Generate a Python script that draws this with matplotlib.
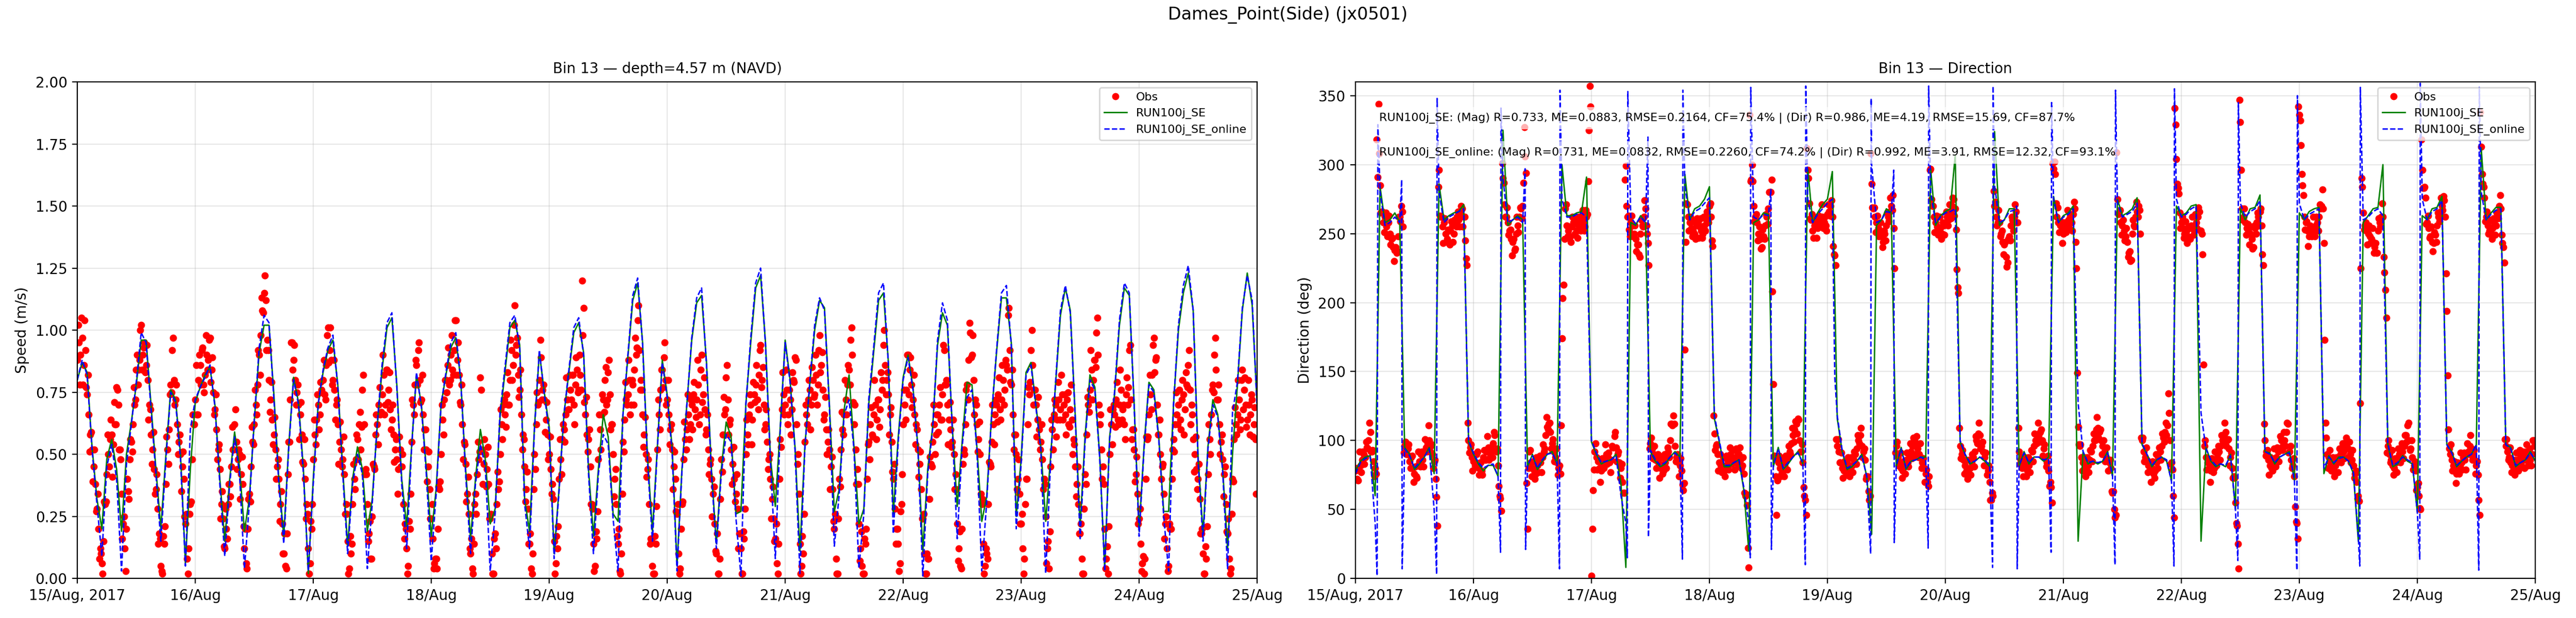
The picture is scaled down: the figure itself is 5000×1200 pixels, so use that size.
import datetime as dt
import numpy as np
import matplotlib
matplotlib.use("Agg")
import matplotlib.pyplot as plt
import matplotlib.dates as mdates
from matplotlib.ticker import FuncFormatter, MultipleLocator

# ---------------- data ----------------
START = dt.datetime(2017, 8, 15)
END = dt.datetime(2017, 8, 25)
MODEL_STEP_MIN = 60
OBS_STEP_MIN = 20      # each obs list is sampled every 20 min
OBS_B_OFFSET_MIN = 10  # second obs list sits 10 min after the first

SUPTITLE = "Dames_Point(Side) (jx0501)"
TITLE_SPEED = "Bin 13 \u2014 depth=4.57 m (NAVD)"
TITLE_DIR = "Bin 13 \u2014 Direction"
LABELS = ["Obs", "RUN100j_SE", "RUN100j_SE_online"]
STATS = [
    "RUN100j_SE: (Mag) R=0.733, ME=0.0883, RMSE=0.2164, CF=75.4% | (Dir) R=0.986, ME=4.19, RMSE=15.69, CF=87.7%",
    "RUN100j_SE_online: (Mag) R=0.731, ME=0.0832, RMSE=0.2260, CF=74.2% | (Dir) R=0.992, ME=3.91, RMSE=12.32, CF=93.1%",
]

# model speed, hourly (m/s)
SE_SPEED = [
    0.80, 0.87, 0.83, 0.53, 0.32, 0.20, 0.48, 0.56, 0.44, 0.19,
    0.50, 0.63, 0.78, 0.96, 0.96, 0.70, 0.44, 0.20, 0.49, 0.76,
    0.72, 0.50, 0.06, 0.44, 0.71, 0.77, 0.82, 0.85, 0.70, 0.40,
    0.15, 0.40, 0.59, 0.45, 0.19, 0.32, 0.63, 0.91, 1.02, 1.02,
    0.74, 0.40, 0.17, 0.53, 0.81, 0.71, 0.44, 0.02, 0.40, 0.70,
    0.83, 0.92, 0.96, 0.78, 0.44, 0.13, 0.40, 0.53, 0.44, 0.19,
    0.32, 0.61, 0.84, 1.01, 1.05, 0.78, 0.40, 0.21, 0.53, 0.82,
    0.70, 0.44, 0.17, 0.36, 0.70, 0.82, 0.93, 0.97, 0.80, 0.44,
    0.16, 0.40, 0.60, 0.48, 0.22, 0.28, 0.65, 0.83, 1.01, 1.04,
    0.94, 0.32, 0.19, 0.61, 0.91, 0.75, 0.61, 0.10, 0.36, 0.66,
    0.83, 0.99, 1.03, 0.91, 0.44, 0.17, 0.44, 0.66, 0.57, 0.26,
    0.23, 0.66, 0.89, 1.12, 1.19, 0.95, 0.49, 0.19, 0.53, 0.88,
    0.74, 0.53, 0.05, 0.44, 0.70, 0.96, 1.11, 1.14, 0.87, 0.44,
    0.14, 0.44, 0.63, 0.57, 0.26, 0.27, 0.70, 0.95, 1.17, 1.22,
    0.95, 0.49, 0.29, 0.61, 0.96, 0.80, 0.53, 0.11, 0.53, 0.78,
    1.00, 1.12, 1.09, 0.70, 0.27, 0.36, 0.68, 0.82, 0.53, 0.22,
    0.28, 0.70, 0.91, 1.12, 1.15, 0.87, 0.26, 0.57, 0.81, 0.90,
    0.77, 0.53, 0.11, 0.44, 0.61, 0.94, 1.07, 1.02, 0.61, 0.29,
    0.55, 0.79, 0.78, 0.53, 0.23, 0.33, 0.66, 0.91, 1.13, 1.13,
    0.95, 0.25, 0.48, 0.83, 0.87, 0.70, 0.53, 0.23, 0.49, 0.78,
    1.06, 1.17, 1.08, 0.66, 0.21, 0.57, 0.82, 0.77, 0.49, 0.04,
    0.57, 0.74, 1.02, 1.17, 1.14, 0.70, 0.19, 0.53, 0.79, 0.76,
    0.57, 0.27, 0.27, 0.70, 1.00, 1.15, 1.23, 1.08, 0.49, 0.18,
    0.53, 0.72, 0.66, 0.44, 0.12, 0.50, 0.78, 1.08, 1.23, 1.10,
    0.70,
]

ONLINE_SPEED = [
    0.80, 0.88, 0.82, 0.52, 0.30, 0.09, 0.45, 0.54, 0.40, 0.03,
    0.46, 0.62, 0.79, 0.99, 0.95, 0.68, 0.42, 0.15, 0.47, 0.75,
    0.71, 0.48, 0.05, 0.60, 0.72, 0.77, 0.81, 0.86, 0.69, 0.38,
    0.09, 0.38, 0.57, 0.42, 0.04, 0.30, 0.64, 0.93, 1.06, 1.03,
    0.72, 0.38, 0.14, 0.52, 0.80, 0.70, 0.42, 0.03, 0.38, 0.70,
    0.84, 0.93, 0.98, 0.77, 0.42, 0.10, 0.38, 0.50, 0.42, 0.04,
    0.30, 0.62, 0.86, 1.03, 1.07, 0.77, 0.38, 0.12, 0.52, 0.83,
    0.69, 0.42, 0.07, 0.34, 0.70, 0.83, 0.95, 0.99, 0.80, 0.42,
    0.10, 0.38, 0.54, 0.45, 0.03, 0.26, 0.67, 0.85, 1.03, 1.06,
    0.93, 0.30, 0.12, 0.60, 0.92, 0.74, 0.59, 0.08, 0.35, 0.66,
    0.84, 1.01, 1.05, 0.90, 0.42, 0.10, 0.42, 0.58, 0.54, 0.24,
    0.03, 0.66, 0.90, 1.14, 1.21, 0.94, 0.47, 0.15, 0.52, 0.87,
    0.73, 0.51, 0.03, 0.43, 0.70, 0.97, 1.13, 1.17, 0.86, 0.42,
    0.12, 0.42, 0.58, 0.55, 0.24, 0.01, 0.70, 0.97, 1.19, 1.25,
    0.94, 0.47, 0.08, 0.60, 0.95, 0.79, 0.52, 0.02, 0.52, 0.79,
    1.02, 1.13, 1.08, 0.69, 0.13, 0.34, 0.66, 0.72, 0.52, 0.04,
    0.26, 0.72, 0.93, 1.15, 1.19, 0.86, 0.18, 0.55, 0.80, 0.89,
    0.76, 0.52, 0.01, 0.42, 0.60, 0.96, 1.11, 1.04, 0.60, 0.16,
    0.53, 0.73, 0.76, 0.52, 0.03, 0.31, 0.66, 0.92, 1.15, 1.18,
    0.94, 0.20, 0.46, 0.82, 0.86, 0.69, 0.52, 0.02, 0.47, 0.79,
    1.08, 1.18, 1.07, 0.65, 0.16, 0.55, 0.80, 0.76, 0.48, 0.03,
    0.56, 0.75, 1.04, 1.19, 1.15, 0.69, 0.17, 0.52, 0.78, 0.75,
    0.56, 0.25, 0.03, 0.70, 1.02, 1.18, 1.26, 1.08, 0.47, 0.15,
    0.52, 0.70, 0.65, 0.43, 0.04, 0.67, 0.79, 1.09, 1.22, 1.12,
    0.69,
]

# observed speed on the 20-minute marks (m/s)
OBS_SPEED_A = [
    0.88, 0.95, 0.90, 0.97, 0.86, 0.92, 0.74, 0.66, 0.58, 0.52, 0.45, 0.38,
    0.28, 0.20, 0.12, 0.06, 0.15, 0.30, 0.42, 0.50, 0.56, 0.58, 0.54, 0.62,
    0.77, 0.70, 0.52, 0.34, 0.22, 0.12, 0.20, 0.35, 0.48, 0.55, 0.62, 0.70,
    0.84, 0.78, 0.88, 1.02, 0.90, 0.95, 0.86, 0.80, 0.70, 0.58, 0.52, 0.44,
    0.36, 0.28, 0.18, 0.05, 0.02, 0.14, 0.38, 0.52, 0.60, 0.78, 0.92, 0.80,
    0.72, 0.62, 0.55, 0.50, 0.45, 0.40, 0.22, 0.08, 0.12, 0.30, 0.48, 0.62,
    0.72, 0.66, 0.80, 0.86, 0.92, 0.78, 0.82, 0.90, 0.88, 0.97, 0.84, 0.75,
    0.68, 0.60, 0.52, 0.44, 0.30, 0.24, 0.12, 0.20, 0.30, 0.38, 0.45, 0.52,
    0.62, 0.55, 0.48, 0.50, 0.42, 0.38, 0.12, 0.06, 0.20, 0.34, 0.45, 0.55,
    0.62, 0.70, 0.78, 0.90, 0.98, 1.08, 1.15, 1.12, 0.96, 0.80, 0.72, 0.64,
    0.58, 0.52, 0.45, 0.40, 0.30, 0.22, 0.10, 0.05, 0.18, 0.55, 0.72, 0.95,
    0.88, 0.80, 0.75, 0.70, 0.66, 0.58, 0.46, 0.40, 0.30, 0.12, 0.06, 0.20,
    0.48, 0.58, 0.64, 0.70, 0.66, 0.76, 0.80, 0.74, 0.86, 1.01, 0.92, 0.88,
    0.80, 0.76, 0.70, 0.62, 0.55, 0.52, 0.48, 0.42, 0.30, 0.15, 0.04, 0.10,
    0.30, 0.40, 0.48, 0.56, 0.62, 0.52, 0.76, 0.62, 0.44, 0.30, 0.18, 0.08,
    0.25, 0.45, 0.58, 0.62, 0.70, 0.66, 0.74, 0.82, 0.70, 0.84, 0.76, 0.68,
    0.64, 0.58, 0.52, 0.48, 0.44, 0.52, 0.45, 0.30, 0.22, 0.12, 0.05, 0.20,
    0.55, 0.70, 0.78, 0.86, 0.92, 0.80, 0.72, 0.66, 0.60, 0.52, 0.45, 0.36,
    0.24, 0.16, 0.06, 0.08, 0.20, 0.36, 0.50, 0.64, 0.72, 0.80, 0.86, 0.78,
    0.90, 0.84, 0.92, 1.04, 0.88, 0.82, 0.70, 0.62, 0.55, 0.46, 0.34, 0.26,
    0.10, 0.04, 0.14, 0.34, 0.42, 0.48, 0.81, 0.52, 0.46, 0.50, 0.44, 0.38,
    0.24, 0.10, 0.02, 0.18, 0.30, 0.36, 0.50, 0.62, 0.70, 0.66, 0.74, 0.70,
    0.80, 0.92, 0.86, 1.10, 0.94, 0.82, 0.76, 0.66, 0.58, 0.45, 0.36, 0.28,
    0.14, 0.04, 0.10, 0.50, 0.62, 0.70, 0.80, 0.89, 0.76, 0.72, 0.64, 0.58,
    0.50, 0.44, 0.38, 0.15, 0.06, 0.12, 0.40, 0.48, 0.56, 0.60, 0.66, 0.72,
    0.68, 0.76, 0.82, 0.70, 0.78, 0.84, 0.76, 0.82, 1.20, 1.09, 0.66, 0.58,
    0.56, 0.45, 0.30, 0.14, 0.05, 0.16, 0.48, 0.60, 0.66, 0.72, 0.80, 0.70,
    0.83, 0.74, 0.62, 0.50, 0.40, 0.30, 0.14, 0.03, 0.10, 0.55, 0.64, 0.72,
    0.74, 0.80, 0.70, 0.78, 0.84, 0.90, 1.04, 0.92, 0.80, 0.66, 0.58, 0.50,
    0.44, 0.30, 0.16, 0.05, 0.02, 0.14, 0.52, 0.66, 0.76, 0.84, 0.89, 0.80,
    0.72, 0.66, 0.60, 0.52, 0.45, 0.40, 0.26, 0.10, 0.04, 0.30, 0.48, 0.56,
    0.60, 0.66, 0.62, 0.70, 0.74, 0.68, 0.72, 0.78, 0.66, 0.90, 0.74, 0.68,
    0.60, 0.52, 0.46, 0.40, 0.34, 0.22, 0.10, 0.02, 0.08, 0.48, 0.58, 0.66,
    0.81, 0.72, 0.62, 0.52, 0.46, 0.40, 0.34, 0.28, 0.18, 0.12, 0.02, 0.16,
    0.50, 0.58, 0.66, 0.70, 0.64, 0.74, 0.78, 0.72, 0.82, 0.94, 0.80, 0.70,
    0.62, 0.55, 0.48, 0.40, 0.32, 0.24, 0.16, 0.06, 0.14, 0.56, 0.68, 0.74,
    0.70, 0.76, 0.66, 0.72, 0.68, 0.80, 0.89, 0.62, 0.50, 0.14, 0.05, 0.10,
    0.55, 0.66, 0.72, 0.76, 0.70, 0.80, 0.74, 0.82, 0.78, 0.98, 0.86, 0.76,
    0.66, 0.60, 0.55, 0.52, 0.45, 0.36, 0.20, 0.08, 0.02, 0.40, 0.52, 0.60,
    0.66, 0.72, 0.78, 0.84, 0.96, 0.90, 0.62, 0.52, 0.44, 0.22, 0.12, 0.05,
    0.02, 0.14, 0.40, 0.55, 0.62, 0.58, 0.66, 0.70, 0.64, 0.72, 0.68, 0.76,
    0.94, 0.86, 0.80, 0.74, 0.66, 0.55, 0.40, 0.28, 0.20, 0.14, 0.06, 0.30,
    0.62, 0.70, 0.76, 0.90, 0.84, 0.78, 0.72, 0.66, 0.62, 0.52, 0.46, 0.36,
    0.24, 0.10, 0.02, 0.08, 0.32, 0.46, 0.55, 0.62, 0.58, 0.66, 0.70, 0.64,
    0.74, 0.92, 0.78, 0.70, 0.64, 0.60, 0.55, 0.50, 0.42, 0.22, 0.12, 0.05,
    0.20, 0.52, 0.62, 0.78, 0.88, 0.99, 0.90, 0.80, 0.72, 0.62, 0.56, 0.50,
    0.30, 0.14, 0.05, 0.10, 0.30, 0.46, 0.55, 0.62, 0.66, 0.70, 0.74, 0.68,
    0.72, 0.80, 0.76, 0.86, 1.06, 0.92, 0.78, 0.66, 0.58, 0.50, 0.40, 0.34,
    0.22, 0.12, 0.08, 0.40, 0.62, 0.74, 0.92, 0.86, 0.76, 0.70, 0.64, 0.60,
    0.55, 0.48, 0.40, 0.25, 0.12, 0.04, 0.45, 0.60, 0.66, 0.70, 0.64, 0.72,
    0.68, 0.74, 0.70, 0.66, 0.72, 0.62, 0.68, 0.64, 0.56, 0.45, 0.38, 0.30,
    0.18, 0.08, 0.02, 0.42, 0.58, 0.70, 0.76, 0.84, 0.80, 0.88, 0.99, 0.90,
    0.62, 0.52, 0.45, 0.20, 0.08, 0.02, 0.50, 0.62, 0.68, 0.66, 0.72, 0.64,
    0.70, 0.76, 0.68, 0.62, 0.74, 0.70, 0.92, 0.72, 0.60, 0.52, 0.42, 0.34,
    0.24, 0.14, 0.06, 0.02, 0.40, 0.56, 0.66, 0.74, 0.82, 0.97, 0.88, 0.70,
    0.58, 0.50, 0.45, 0.34, 0.22, 0.12, 0.05, 0.20, 0.40, 0.56, 0.62, 0.66,
    0.70, 0.64, 0.72, 0.74, 0.68, 0.78, 0.86, 0.76, 0.70, 0.56, 0.50, 0.44,
    0.40, 0.32, 0.18, 0.10, 0.02, 0.08, 0.42, 0.56, 0.66, 0.78, 0.90, 0.84,
    0.72, 0.62, 0.55, 0.48, 0.42, 0.30, 0.18, 0.08, 0.04, 0.40, 0.56, 0.62,
    0.66, 0.72, 0.64, 0.84, 0.76, 0.70, 0.64, 0.70, 0.66, 0.72, 0.62, 0.56,
]

# observed speed 10 minutes after each 20-minute mark (m/s)
OBS_SPEED_B = [
    1.02, 0.78, 1.05, 0.78, 1.04, 0.77, 0.82, 0.51, 0.59, 0.39, 0.52, 0.27,
    0.34, 0.08, 0.10, 0.02, 0.31, 0.31, 0.58, 0.45, 0.64, 0.41, 0.71, 0.62,
    0.76, 0.52, 0.48, 0.16, 0.25, 0.03, 0.40, 0.32, 0.56, 0.51, 0.77, 0.72,
    0.90, 0.84, 1.00, 0.84, 0.93, 0.83, 0.94, 0.64, 0.68, 0.46, 0.59, 0.34,
    0.42, 0.14, 0.16, 0.03, 0.17, 0.21, 0.57, 0.46, 0.74, 0.75, 0.97, 0.70,
    0.78, 0.50, 0.58, 0.35, 0.51, 0.25, 0.26, 0.02, 0.26, 0.31, 0.66, 0.62,
    0.86, 0.66, 0.90, 0.78, 0.93, 0.75, 0.98, 0.84, 0.96, 0.79, 0.89, 0.66,
    0.74, 0.48, 0.54, 0.24, 0.35, 0.13, 0.28, 0.16, 0.38, 0.33, 0.61, 0.52,
    0.68, 0.44, 0.52, 0.32, 0.49, 0.21, 0.20, 0.04, 0.32, 0.31, 0.61, 0.54,
    0.76, 0.66, 0.92, 0.82, 1.13, 1.07, 1.22, 0.92, 0.92, 0.67, 0.79, 0.54,
    0.65, 0.40, 0.48, 0.23, 0.35, 0.10, 0.18, 0.04, 0.42, 0.55, 0.95, 0.84,
    0.94, 0.70, 0.78, 0.56, 0.71, 0.47, 0.56, 0.24, 0.26, 0.02, 0.23, 0.30,
    0.64, 0.54, 0.74, 0.60, 0.79, 0.75, 0.88, 0.72, 0.98, 0.87, 1.01, 0.78,
    0.88, 0.64, 0.72, 0.46, 0.63, 0.45, 0.57, 0.26, 0.26, 0.02, 0.17, 0.14,
    0.46, 0.36, 0.58, 0.48, 0.67, 0.61, 0.82, 0.42, 0.42, 0.15, 0.23, 0.08,
    0.46, 0.44, 0.66, 0.54, 0.77, 0.67, 0.90, 0.66, 0.84, 0.71, 0.83, 0.60,
    0.70, 0.47, 0.56, 0.34, 0.57, 0.45, 0.50, 0.16, 0.20, 0.02, 0.23, 0.34,
    0.72, 0.66, 0.88, 0.78, 0.95, 0.71, 0.82, 0.52, 0.60, 0.39, 0.51, 0.24,
    0.30, 0.04, 0.08, 0.04, 0.37, 0.39, 0.70, 0.58, 0.80, 0.75, 0.93, 0.80,
    0.98, 0.82, 1.04, 0.82, 0.95, 0.71, 0.78, 0.48, 0.54, 0.31, 0.41, 0.12,
    0.16, 0.02, 0.30, 0.26, 0.55, 0.51, 0.76, 0.38, 0.56, 0.37, 0.53, 0.24,
    0.26, 0.02, 0.16, 0.12, 0.43, 0.39, 0.68, 0.56, 0.72, 0.61, 0.83, 0.70,
    0.96, 0.80, 1.02, 0.90, 0.97, 0.73, 0.84, 0.52, 0.56, 0.31, 0.43, 0.14,
    0.18, 0.02, 0.36, 0.44, 0.75, 0.71, 0.96, 0.72, 0.78, 0.59, 0.71, 0.48,
    0.57, 0.34, 0.32, 0.02, 0.17, 0.21, 0.56, 0.42, 0.62, 0.55, 0.81, 0.68,
    0.82, 0.72, 0.82, 0.62, 0.89, 0.75, 0.90, 0.76, 0.98, 0.71, 0.73, 0.51,
    0.60, 0.30, 0.28, 0.03, 0.19, 0.27, 0.66, 0.52, 0.74, 0.67, 0.85, 0.72,
    0.88, 0.60, 0.62, 0.33, 0.44, 0.17, 0.20, 0.02, 0.34, 0.51, 0.79, 0.70,
    0.88, 0.66, 0.80, 0.70, 0.97, 0.93, 1.10, 0.76, 0.76, 0.53, 0.65, 0.41,
    0.48, 0.14, 0.16, 0.02, 0.17, 0.29, 0.72, 0.60, 0.84, 0.77, 0.95, 0.70,
    0.80, 0.54, 0.62, 0.36, 0.51, 0.27, 0.30, 0.02, 0.20, 0.31, 0.63, 0.52,
    0.74, 0.56, 0.72, 0.60, 0.79, 0.65, 0.88, 0.62, 0.84, 0.71, 0.81, 0.58,
    0.66, 0.42, 0.48, 0.25, 0.37, 0.11, 0.18, 0.02, 0.32, 0.43, 0.73, 0.68,
    0.86, 0.58, 0.64, 0.38, 0.53, 0.31, 0.42, 0.12, 0.18, 0.02, 0.19, 0.28,
    0.64, 0.54, 0.74, 0.54, 0.79, 0.71, 0.86, 0.68, 0.92, 0.77, 0.85, 0.60,
    0.68, 0.44, 0.50, 0.24, 0.37, 0.15, 0.22, 0.02, 0.40, 0.53, 0.83, 0.66,
    0.84, 0.62, 0.76, 0.58, 0.83, 0.79, 0.88, 0.46, 0.34, 0.02, 0.17, 0.26,
    0.70, 0.62, 0.80, 0.60, 0.85, 0.73, 0.90, 0.70, 0.92, 0.83, 0.91, 0.64,
    0.73, 0.50, 0.60, 0.36, 0.49, 0.23, 0.26, 0.02, 0.24, 0.37, 0.67, 0.58,
    0.80, 0.66, 0.86, 0.78, 1.01, 0.71, 0.70, 0.38, 0.38, 0.07, 0.19, 0.02,
    0.16, 0.20, 0.54, 0.48, 0.69, 0.57, 0.80, 0.56, 0.72, 0.61, 0.83, 0.80,
    1.00, 0.74, 0.83, 0.58, 0.69, 0.43, 0.46, 0.14, 0.20, 0.03, 0.27, 0.42,
    0.76, 0.64, 0.90, 0.74, 0.89, 0.69, 0.82, 0.54, 0.60, 0.41, 0.51, 0.24,
    0.26, 0.02, 0.10, 0.08, 0.49, 0.45, 0.70, 0.50, 0.66, 0.59, 0.77, 0.64,
    0.94, 0.78, 0.80, 0.54, 0.71, 0.53, 0.64, 0.36, 0.36, 0.07, 0.19, 0.04,
    0.46, 0.50, 0.76, 0.72, 1.03, 0.89, 0.98, 0.66, 0.70, 0.51, 0.63, 0.34,
    0.32, 0.02, 0.12, 0.08, 0.47, 0.45, 0.70, 0.54, 0.72, 0.63, 0.81, 0.64,
    0.86, 0.70, 0.88, 0.84, 1.09, 0.79, 0.84, 0.52, 0.58, 0.36, 0.48, 0.22,
    0.26, 0.02, 0.30, 0.40, 0.77, 0.79, 1.00, 0.70, 0.76, 0.57, 0.73, 0.52,
    0.62, 0.36, 0.38, 0.06, 0.15, 0.19, 0.64, 0.52, 0.72, 0.57, 0.79, 0.64,
    0.82, 0.64, 0.74, 0.58, 0.75, 0.61, 0.78, 0.50, 0.54, 0.33, 0.45, 0.18,
    0.22, 0.02, 0.28, 0.38, 0.73, 0.67, 0.92, 0.72, 0.88, 0.85, 1.05, 0.70,
    0.66, 0.40, 0.38, 0.04, 0.13, 0.21, 0.68, 0.54, 0.70, 0.61, 0.79, 0.62,
    0.84, 0.64, 0.70, 0.56, 0.81, 0.77, 0.94, 0.56, 0.60, 0.39, 0.49, 0.22,
    0.28, 0.03, 0.09, 0.08, 0.57, 0.57, 0.82, 0.68, 0.94, 0.83, 0.89, 0.58,
    0.64, 0.40, 0.46, 0.16, 0.25, 0.03, 0.22, 0.20, 0.52, 0.51, 0.75, 0.62,
    0.76, 0.60, 0.80, 0.58, 0.83, 0.77, 0.92, 0.62, 0.66, 0.43, 0.57, 0.36,
    0.46, 0.18, 0.20, 0.02, 0.13, 0.21, 0.62, 0.50, 0.76, 0.75, 0.97, 0.72,
    0.78, 0.50, 0.58, 0.33, 0.45, 0.19, 0.24, 0.02, 0.26, 0.39, 0.69, 0.58,
    0.80, 0.60, 0.80, 0.68, 0.81, 0.61, 0.80, 0.58, 0.74, 0.57, 0.69, 0.34,
]

# model direction, hourly (deg)
SE_DIR = [
    78, 85, 88, 89, 60, 284, 258, 260, 265, 258,
    95, 90, 79, 83, 88, 95, 76, 286, 260, 263,
    265, 266, 271, 99, 90, 83, 78, 82, 82, 74,
    325, 256, 260, 263, 260, 81, 90, 79, 85, 90,
    92, 83, 300, 263, 263, 265, 266, 291, 99, 90,
    83, 85, 86, 90, 69, 8, 258, 256, 263, 258,
    92, 85, 81, 83, 88, 92, 88, 293, 260, 268,
    270, 275, 284, 116, 99, 81, 81, 84, 86, 64,
    20, 258, 260, 265, 264, 81, 95, 79, 83, 88,
    92, 83, 297, 258, 265, 271, 275, 295, 116, 92,
    79, 81, 85, 90, 74, 32, 256, 260, 268, 265,
    81, 95, 79, 85, 86, 88, 88, 297, 256, 263,
    266, 268, 307, 99, 90, 83, 85, 88, 85, 81,
    324, 256, 260, 268, 268, 81, 92, 83, 88, 88,
    85, 88, 277, 258, 263, 265, 270, 27, 92, 83,
    85, 83, 85, 92, 74, 275, 263, 265, 268, 276,
    97, 90, 81, 86, 88, 85, 71, 270, 263, 265,
    270, 271, 27, 95, 85, 81, 83, 81, 90, 50,
    268, 260, 268, 269, 278, 92, 91, 83, 88, 90,
    92, 71, 265, 260, 266, 268, 269, 76, 89, 83,
    88, 88, 85, 76, 27, 258, 263, 268, 269, 300,
    97, 81, 83, 89, 85, 83, 48, 263, 260, 268,
    269, 277, 97, 92, 81, 85, 88, 90, 97, 312,
    260, 265, 269, 269, 97, 95, 81, 84, 86, 92,
    85,
]

ONLINE_DIR = [
    76, 84, 87, 88, 40, 280, 256, 258, 262, 258,
    94, 89, 80, 84, 88, 94, 50, 280, 258, 262,
    264, 266, 268, 100, 91, 84, 80, 82, 83, 74,
    290, 258, 260, 262, 258, 82, 89, 80, 86, 90,
    91, 84, 275, 262, 262, 264, 265, 262, 100, 91,
    84, 85, 86, 89, 60, 40, 262, 257, 262, 258,
    93, 86, 82, 84, 88, 91, 87, 285, 260, 266,
    268, 272, 276, 118, 100, 82, 82, 84, 86, 66,
    40, 262, 260, 264, 263, 82, 94, 80, 84, 88,
    91, 84, 275, 258, 264, 268, 272, 275, 118, 93,
    80, 82, 85, 89, 74, 300, 258, 260, 266, 265,
    82, 94, 80, 85, 86, 88, 86, 280, 258, 262,
    265, 266, 268, 100, 90, 84, 85, 88, 86, 82,
    285, 258, 260, 266, 267, 82, 91, 84, 88, 88,
    86, 87, 275, 258, 262, 264, 268, 127, 92, 84,
    85, 84, 85, 91, 74, 272, 262, 264, 266, 272,
    98, 90, 82, 86, 88, 86, 70, 275, 262, 264,
    268, 270, 120, 94, 86, 82, 83, 82, 89, 50,
    272, 262, 266, 268, 274, 92, 90, 84, 88, 90,
    91, 71, 272, 260, 264, 266, 268, 80, 88, 84,
    87, 88, 85, 77, 30, 260, 262, 266, 268, 263,
    98, 82, 84, 88, 86, 84, 48, 275, 260, 266,
    268, 274, 97, 91, 82, 85, 88, 90, 97, 280,
    260, 264, 267, 268, 97, 94, 82, 84, 86, 91,
    86,
]

# extra online-direction samples where the direction wraps through north
ONLINE_DIR_WRAP_HOURS = [
    4.4, 4.55, 9.4, 9.5, 16.5, 16.6, 29.5, 29.6, 34.5, 34.6,
    41.5, 41.6, 55.3, 55.4, 59.5, 59.6, 66.5, 66.6, 80.3, 80.4,
    84.5, 84.6, 91.5, 91.6, 97.5, 104.8, 104.9, 109.5, 109.6,
    116.5, 116.6, 129.6, 129.7, 134.5, 134.6, 141.5, 141.6,
    154.5, 154.6, 166.5, 166.6, 179.5, 179.6, 191.5, 191.6,
    204.3, 204.4, 216.5, 216.6, 228.5, 228.6,
]
ONLINE_DIR_WRAP_DEG = [
    2, 329, 289, 7, 3, 348, 19, 341, 297, 21,
    7, 354, 15, 353, 320, 30, 14, 354, 15, 356,
    282, 21, 10, 357, 146, 18, 348, 296, 26,
    22, 357, 8, 357, 270, 7, 19, 345,
    10, 354, 9, 355, 13, 345, 6, 350,
    9, 356, 14, 359, 6, 356,
]

# observed direction on the 20-minute marks (deg)
OBS_DIR_A = [
    78, 72, 80, 82, 86, 90, 88, 95, 100, 106, 92, 85,
    80, 318, 344, 285, 266, 258, 262, 255, 258, 250, 246, 240,
    238, 236, 248, 262, 270, 255, 96, 90, 94, 85, 88, 80,
    76, 74, 82, 85, 90, 86, 92, 95, 98, 100, 96, 90,
    85, 72, 38, 296, 262, 255, 258, 250, 246, 244, 252, 256,
    250, 258, 262, 260, 264, 268, 262, 245, 227, 100, 95, 88,
    85, 82, 90, 80, 84, 78, 88, 86, 92, 95, 88, 92,
    98, 104, 92, 82, 60, 49, 290, 271, 262, 258, 252, 246,
    244, 238, 250, 256, 262, 268, 270, 327, 294, 36, 92, 84,
    80, 78, 76, 82, 86, 84, 88, 92, 104, 110, 112, 106,
    98, 92, 88, 84, 80, 76, 174, 213, 268, 256, 252, 248,
    255, 258, 250, 252, 256, 260, 262, 258, 255, 262, 288, 357,
    2, 64, 92, 88, 85, 80, 78, 82, 86, 90, 88, 84,
    86, 95, 103, 95, 90, 84, 80, 70, 62, 299, 262, 253,
    258, 256, 250, 246, 242, 235, 250, 256, 262, 268, 250, 227,
    98, 94, 90, 86, 88, 84, 80, 82, 78, 84, 88, 92,
    100, 112, 118, 96, 88, 84, 82, 78, 64, 166, 272, 262,
    258, 254, 252, 250, 256, 258, 255, 252, 250, 256, 260, 262,
    270, 262, 241, 105, 96, 90, 84, 82, 80, 78, 82, 86,
    88, 90, 86, 84, 88, 92, 90, 86, 82, 76, 60, 53,
    8, 288, 300, 270, 262, 258, 250, 246, 240, 248, 256, 262,
    268, 280, 289, 141, 88, 46, 84, 80, 76, 78, 82, 86,
    88, 92, 98, 104, 108, 112, 116, 100, 92, 84, 60, 46,
    296, 272, 260, 252, 256, 258, 254, 258, 262, 262, 258, 256,
    264, 266, 270, 262, 235, 227, 96, 92, 84, 80, 78, 82,
    84, 80, 78, 82, 86, 90, 94, 100, 104, 96, 92, 86,
    74, 63, 60, 286, 268, 262, 258, 254, 250, 248, 244, 250,
    256, 262, 266, 270, 278, 225, 96, 88, 84, 80, 78, 82,
    86, 84, 88, 92, 96, 100, 98, 94, 90, 88, 84, 80,
    76, 70, 74, 297, 270, 262, 258, 255, 252, 254, 250, 256,
    258, 262, 260, 266, 270, 275, 268, 224, 207, 96, 90, 86,
    82, 78, 76, 80, 84, 88, 92, 100, 105, 104, 96, 92,
    88, 82, 78, 70, 57, 60, 270, 262, 258, 258, 250, 244,
    242, 233, 229, 248, 256, 260, 262, 266, 258, 92, 86, 80,
    84, 80, 78, 82, 86, 92, 96, 100, 104, 104, 106, 100,
    94, 88, 84, 78, 70, 55, 297, 293, 262, 258, 256, 252,
    250, 254, 258, 260, 262, 258, 264, 268, 225, 110, 96, 88,
    84, 80, 78, 82, 86, 92, 96, 100, 108, 109, 106, 100,
    96, 92, 88, 86, 84, 80, 62, 50, 46, 275, 265, 258,
    256, 252, 248, 244, 236, 230, 250, 256, 262, 266, 270, 250,
    100, 92, 88, 86, 82, 78, 80, 76, 78, 84, 88, 92,
    96, 102, 106, 104, 134, 100, 84, 60, 341, 304, 283, 265,
    258, 254, 250, 252, 248, 254, 256, 254, 252, 258, 262, 266,
    252, 235, 96, 88, 84, 80, 78, 82, 80, 86, 90, 92,
    96, 100, 104, 106, 100, 94, 88, 80, 74, 55, 38, 7,
    331, 268, 262, 258, 254, 252, 250, 246, 240, 254, 258, 262,
    266, 256, 227, 100, 92, 86, 82, 80, 84, 86, 88, 92,
    94, 100, 96, 100, 106, 112, 92, 86, 82, 74, 41, 29,
    336, 314, 285, 262, 258, 252, 248, 250, 254, 252, 256, 258,
    262, 268, 282, 243, 113, 90, 88, 84, 80, 78, 82, 84,
    86, 90, 88, 92, 96, 100, 94, 90, 86, 82, 76, 70,
    60, 127, 290, 265, 256, 252, 250, 248, 246, 244, 240, 236,
    252, 258, 262, 262, 222, 189, 96, 90, 86, 82, 80, 84,
    86, 90, 88, 92, 96, 104, 111, 100, 94, 88, 82, 78,
    66, 60, 50, 296, 283, 276, 258, 254, 248, 244, 243, 249,
    256, 262, 266, 270, 277, 262, 194, 108, 90, 86, 82, 78,
    76, 80, 82, 84, 88, 86, 90, 92, 96, 94, 90, 86,
    82, 75, 46, 313, 286, 276, 262, 256, 252, 250, 254, 258,
    256, 262, 270, 268, 243, 229, 96, 92, 88, 84, 82, 80,
    86, 84, 82, 88, 90, 86, 92, 88, 84, 86, 90, 100,
]

# observed direction 10 minutes after each 20-minute mark (deg)
OBS_DIR_B = [
    80, 71, 92, 77, 92, 83, 99, 94, 113, 92, 93, 74,
    76, 291, 308, 265, 266, 251, 265, 248, 263, 242, 247, 230,
    240, 237, 262, 259, 266, 91, 99, 90, 97, 80, 89, 70,
    81, 73, 92, 81, 92, 81, 101, 92, 111, 92, 97, 80,
    86, 59, 284, 263, 262, 243, 261, 244, 253, 242, 259, 244,
    260, 255, 266, 255, 270, 255, 262, 232, 113, 91, 97, 78,
    90, 81, 92, 75, 84, 75, 93, 86, 103, 86, 95, 88,
    106, 93, 94, 67, 58, 301, 287, 262, 269, 249, 253, 234,
    246, 239, 262, 251, 269, 261, 287, 306, 69, 80, 93, 74,
    85, 72, 88, 77, 89, 77, 97, 94, 117, 108, 113, 94,
    101, 85, 94, 75, 82, 111, 203, 246, 271, 248, 255, 244,
    262, 249, 259, 247, 262, 252, 267, 252, 267, 264, 325, 342,
    36, 79, 98, 79, 86, 70, 87, 80, 97, 83, 91, 77,
    96, 95, 106, 85, 92, 73, 83, 62, 289, 270, 263, 248,
    263, 248, 256, 237, 242, 233, 260, 255, 274, 256, 243, 94,
    102, 87, 96, 80, 90, 73, 88, 76, 90, 80, 95, 88,
    112, 111, 112, 85, 90, 74, 87, 68, 69, 244, 271, 252,
    262, 248, 259, 246, 261, 247, 261, 247, 262, 252, 266, 258,
    272, 245, 118, 93, 97, 78, 90, 77, 88, 74, 89, 79,
    95, 83, 93, 79, 94, 82, 95, 80, 88, 62, 61, 22,
    336, 289, 288, 259, 264, 245, 255, 239, 253, 246, 264, 257,
    280, 280, 208, 89, 74, 71, 89, 74, 86, 74, 89, 79,
    96, 90, 109, 99, 114, 105, 115, 92, 97, 66, 57, 312,
    290, 261, 264, 247, 261, 247, 263, 256, 271, 254, 262, 252,
    271, 263, 274, 241, 234, 101, 101, 84, 91, 73, 85, 75,
    88, 74, 88, 77, 92, 83, 104, 98, 109, 88, 94, 72,
    74, 57, 308, 269, 269, 251, 263, 248, 258, 240, 252, 245,
    265, 259, 276, 267, 254, 91, 99, 82, 91, 73, 85, 76,
    91, 81, 98, 87, 102, 90, 103, 88, 98, 80, 87, 70,
    79, 67, 296, 275, 270, 251, 263, 249, 262, 246, 258, 249,
    266, 256, 271, 261, 276, 263, 253, 211, 109, 87, 93, 76,
    86, 72, 86, 75, 90, 81, 103, 98, 113, 94, 99, 82,
    91, 75, 82, 57, 62, 281, 273, 256, 267, 248, 252, 235,
    244, 226, 246, 245, 262, 252, 271, 258, 109, 83, 88, 74,
    88, 74, 88, 77, 93, 85, 105, 98, 113, 99, 108, 89,
    97, 81, 89, 67, 66, 301, 302, 272, 269, 251, 259, 243,
    258, 251, 267, 254, 264, 252, 273, 244, 149, 97, 97, 78,
    88, 74, 88, 77, 93, 85, 105, 100, 117, 102, 108, 90,
    100, 85, 95, 78, 86, 63, 63, 44, 309, 264, 267, 249,
    260, 245, 254, 233, 237, 231, 260, 255, 273, 262, 267, 102,
    102, 85, 95, 77, 84, 70, 85, 73, 90, 80, 95, 86,
    105, 99, 113, 111, 120, 83, 79, 44, 329, 286, 279, 254,
    262, 247, 259, 243, 255, 246, 262, 249, 264, 254, 269, 252,
    250, 155, 100, 79, 86, 70, 87, 77, 92, 82, 96, 86,
    104, 97, 113, 96, 101, 82, 91, 73, 73, 40, 25, 347,
    296, 260, 268, 249, 257, 242, 255, 239, 256, 250, 265, 256,
    268, 235, 112, 89, 93, 75, 88, 78, 94, 81, 95, 85,
    103, 93, 106, 96, 113, 91, 96, 80, 87, 52, 40, 342,
    332, 293, 278, 253, 259, 241, 256, 248, 262, 248, 262, 252,
    271, 270, 268, 173, 102, 80, 93, 78, 88, 74, 88, 77,
    94, 84, 98, 87, 102, 88, 99, 84, 93, 73, 78, 58,
    56, 225, 284, 253, 258, 242, 256, 243, 254, 236, 243, 236,
    261, 255, 272, 233, 209, 91, 100, 84, 93, 75, 87, 77,
    94, 84, 98, 87, 104, 99, 113, 93, 100, 79, 85, 64,
    69, 51, 318, 283, 284, 257, 263, 247, 255, 237, 251, 244,
    265, 259, 276, 267, 274, 221, 147, 94, 97, 78, 85, 69,
    84, 76, 91, 79, 91, 79, 98, 90, 104, 86, 93, 76,
    85, 57, 338, 293, 284, 259, 266, 250, 260, 246, 261, 249,
    265, 261, 278, 249, 240, 101, 101, 86, 95, 77, 86, 75,
    91, 78, 93, 82, 92, 80, 97, 82, 94, 82, 100, 96,
]

# ---------------- times ----------------
def model_times(n):
    return [START + dt.timedelta(minutes=MODEL_STEP_MIN * i) for i in range(n)]

def obs_times(n, offset_min=0):
    return [START + dt.timedelta(minutes=OBS_STEP_MIN * i + offset_min) for i in range(n)]

# observations: merge the two 20-minute lists into one 10-minute series
def merge_obs(a, b):
    ta = obs_times(len(a))
    tb = obs_times(len(b), OBS_B_OFFSET_MIN)
    pairs = sorted(list(zip(ta, a)) + list(zip(tb, b)), key=lambda p: p[0])
    return [p[0] for p in pairs], [p[1] for p in pairs]

t_obs_spd, v_obs_spd = merge_obs(OBS_SPEED_A, OBS_SPEED_B)
t_obs_dir, v_obs_dir = merge_obs(OBS_DIR_A, OBS_DIR_B)

t_se_spd = model_times(len(SE_SPEED))
t_on_spd = model_times(len(ONLINE_SPEED))
t_se_dir = model_times(len(SE_DIR))

# online direction: hourly samples plus the wrap-through-north samples
on_pairs = [(i * MODEL_STEP_MIN / 60.0, v) for i, v in enumerate(ONLINE_DIR)]
on_pairs += list(zip(ONLINE_DIR_WRAP_HOURS, ONLINE_DIR_WRAP_DEG))
on_pairs.sort(key=lambda p: p[0])
t_on_dir = [START + dt.timedelta(hours=h) for h, _ in on_pairs]
v_on_dir = [v for _, v in on_pairs]

# ---------------- figure ----------------
plt.rcParams["font.family"] = ["DejaVu Sans"]
fig = plt.figure(figsize=(25, 6), dpi=200)
ax1 = fig.add_axes([0.030, 0.064, 0.458, 0.8035])
ax2 = fig.add_axes([0.5262, 0.064, 0.458, 0.8035])


def date_fmt(x, pos=None):
    d = mdates.num2date(x).replace(tzinfo=None)
    if d.date() == START.date():
        return d.strftime("%d/%b, %Y")
    return d.strftime("%d/%b")


for ax in (ax1, ax2):
    ax.xaxis.set_major_locator(mdates.DayLocator())
    ax.xaxis.set_major_formatter(FuncFormatter(date_fmt))
    ax.set_xlim(START, END)
    ax.grid(True, alpha=0.3)
    ax.tick_params(labelsize=10)

# speed panel
ax1.plot(t_obs_spd, v_obs_spd, "o", color="red", markersize=4, label=LABELS[0])
ax1.plot(t_se_spd, SE_SPEED, "-", color="green", linewidth=1.0, label=LABELS[1])
ax1.plot(t_on_spd, ONLINE_SPEED, "--", color="blue", linewidth=1.0, label=LABELS[2])
ax1.set_ylim(0, 2.0)
ax1.yaxis.set_major_locator(MultipleLocator(0.25))
ax1.yaxis.set_major_formatter(FuncFormatter(lambda v, p: f"{v:.2f}"))
ax1.set_ylabel("Speed (m/s)", fontsize=10)
ax1.set_title(TITLE_SPEED, fontsize=10)
ax1.legend(loc="upper right", fontsize=8)

# direction panel
ax2.plot(t_obs_dir, v_obs_dir, "o", color="red", markersize=4, label=LABELS[0])
ax2.plot(t_se_dir, SE_DIR, "-", color="green", linewidth=1.0, label=LABELS[1])
ax2.plot(t_on_dir, v_on_dir, "--", color="blue", linewidth=1.0, label=LABELS[2])
ax2.set_ylim(0, 360)
ax2.yaxis.set_major_locator(MultipleLocator(50))
ax2.set_ylabel("Direction (deg)", fontsize=10)
ax2.set_title(TITLE_DIR, fontsize=10)
ax2.legend(loc="upper right", fontsize=8)

for y, s in zip([0.927, 0.858], STATS):
    ax2.text(0.02, y, s, transform=ax2.transAxes, fontsize=8, va="center",
             bbox=dict(facecolor="white", alpha=0.7, edgecolor="none"))

fig.suptitle(SUPTITLE, fontsize=12, y=0.99)

fig.savefig("out.png", dpi=200)
